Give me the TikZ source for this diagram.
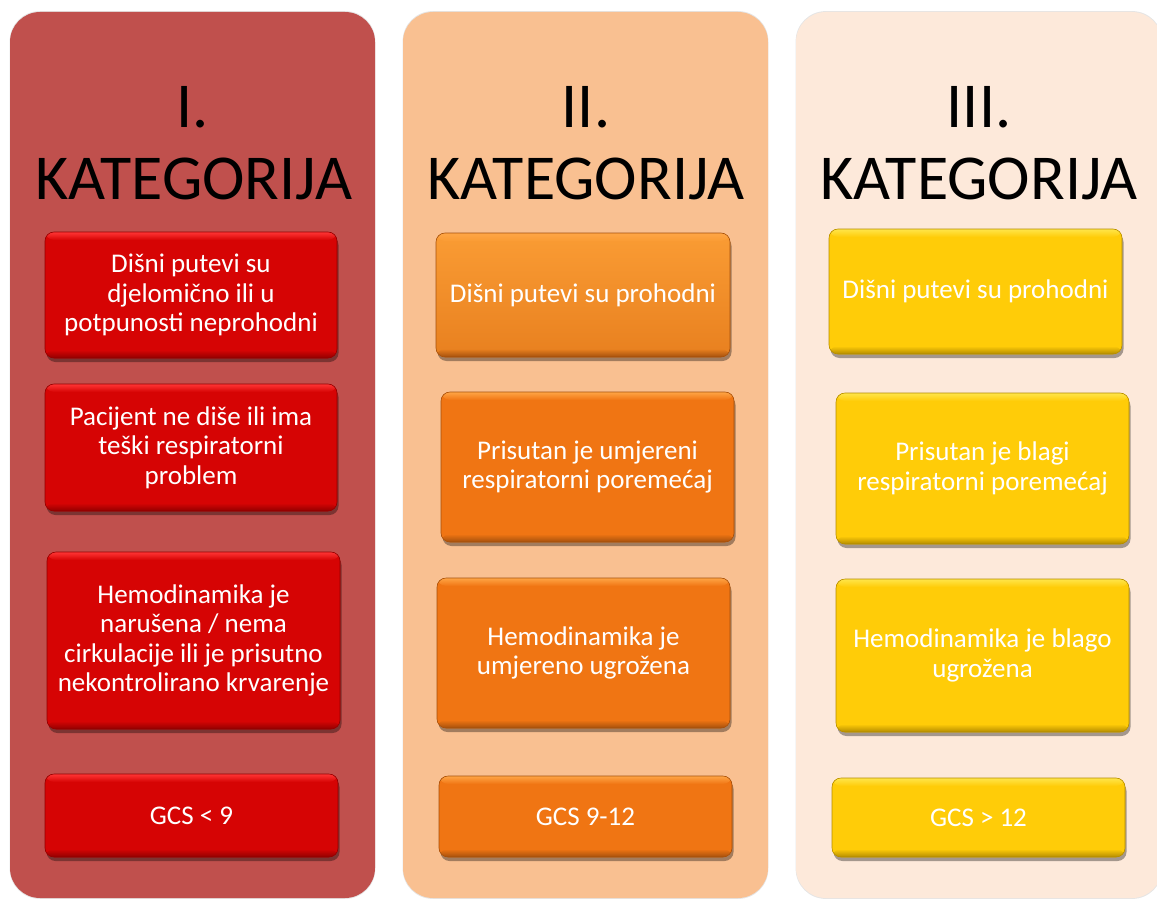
\documentclass[tikz,border=0pt]{standalone}
\usepackage{fontspec}
\setmainfont{Carlito}
\usetikzlibrary{shadows}
\definecolor{colA}{HTML}{C0504D}
\definecolor{colB}{HTML}{F9C091}
\definecolor{colC}{HTML}{FDE9DA}
\definecolor{redbox}{HTML}{D60404}
\definecolor{redhi}{HTML}{FF3535}
\definecolor{redlo}{HTML}{920000}
\definecolor{orbox}{HTML}{F07513}
\definecolor{ortop}{HTML}{FA9C34}
\definecolor{orbot}{HTML}{E8801F}
\definecolor{orhi}{HTML}{FFA545}
\definecolor{orlo}{HTML}{A5500C}
\definecolor{yebox}{HTML}{FFCC08}
\definecolor{yehi}{HTML}{FFE54A}
\definecolor{yelo}{HTML}{B48C00}
\tikzset{
  column/.style={rounded corners=30pt, fill=#1,
    general shadow={shadow scale=1.002, opacity=0.10, fill=black}},
  card/.style n args={4}{rounded corners=9pt, inner sep=0pt, outer sep=0pt,
    fill=#2, draw=#4, line width=0.6pt,
    drop shadow={shadow xshift=1.5pt, shadow yshift=-4pt, opacity=0.35, fill=black},
    text=white, align=center, font=\fontsize{27}{29.5}\selectfont,
    path picture={
      \shade[top color=#1, bottom color=#2] (path picture bounding box.north west) rectangle (path picture bounding box.south east);
      \shade[top color=#3, bottom color=#1] (path picture bounding box.north west) rectangle ([yshift=-8pt]path picture bounding box.north east);
      \shade[top color=#2, bottom color=#4] ([yshift=8pt]path picture bounding box.south west) rectangle (path picture bounding box.south east);
    }},
  redcard/.style={card={redbox}{redbox}{redhi}{redlo}},
  orcard/.style={card={orbox}{orbox}{orhi}{orlo}},
  yecard/.style={card={yebox}{yebox}{yehi}{yelo}},
  title/.style={anchor=base, text=black, font=\fontsize{64}{71}\selectfont, inner sep=0pt}
}
\begin{document}
\begin{tikzpicture}[x=1pt, y=-1pt]
\useasboundingbox (0,0) rectangle (1157,899);
\clip (0,0) rectangle (1157,899);
\fill[white] (0,0) rectangle (1157,899);
% columns
\path[column=colA] (10,12) rectangle (375,898);
\path[column=colB] (403,12) rectangle (768,898);
\path[column=colC] (796,12) rectangle (1162,898);
% titles
\node[title] (t1a) at (192.5,128) {I.};
\node[title] (t1b) at (193.5,199) {KATEGORIJA};
\node[title] (t2a) at (586,128) {II.};
\node[title] (t2b) at (586,199) {KATEGORIJA};
\node[title] (t3a) at (979,128) {III.};
\node[title] (t3b) at (979,199) {KATEGORIJA};
% column I
\node[redcard, minimum width=292pt, minimum height=126pt] (b11) at (191,295)
  {Dišni putevi su\\djelomično ili u\\potpunosti neprohodni};
\node[redcard, minimum width=292pt, minimum height=127pt] (b12) at (191,447.5)
  {Pacijent ne diše ili ima\\teški respiratorni\\problem};
\node[redcard, minimum width=293pt, minimum height=177pt] (b13) at (193.5,640.5)
  {Hemodinamika je\\narušena / nema\\cirkulacije ili je prisutno\\nekontrolirano krvarenje};
\node[redcard, minimum width=293pt, minimum height=83pt] (b14) at (191.5,815.5)
  {GCS < 9};
% column II
\node[card={ortop}{orbot}{orhi}{orlo}, minimum width=294pt, minimum height=124pt] (b21) at (583,295)
  {Dišni putevi su prohodni};
\node[orcard, minimum width=293pt, minimum height=150pt] (b22) at (587.5,467)
  {Prisutan je umjereni\\respiratorni poremećaj};
\node[orcard, minimum width=293pt, minimum height=150pt] (b23) at (583.5,653)
  {Hemodinamika je\\umjereno ugrožena};
\node[orcard, minimum width=293pt, minimum height=81pt] (b24) at (585.5,816.5)
  {GCS 9-12};
% column III
\node[yecard, minimum width=293pt, minimum height=125pt] (b31) at (975.5,291.5)
  {Dišni putevi su prohodni};
\node[yecard, minimum width=293pt, minimum height=151pt] (b32) at (982.5,468.5)
  {Prisutan je blagi\\respiratorni poremećaj};
\node[yecard, minimum width=293pt, minimum height=153pt] (b33) at (982.5,655.5)
  {Hemodinamika je blago\\ugrožena};
\node[yecard, minimum width=293pt, minimum height=79pt] (b34) at (978.5,817.5)
  {GCS > 12};
\end{tikzpicture}
\end{document}
